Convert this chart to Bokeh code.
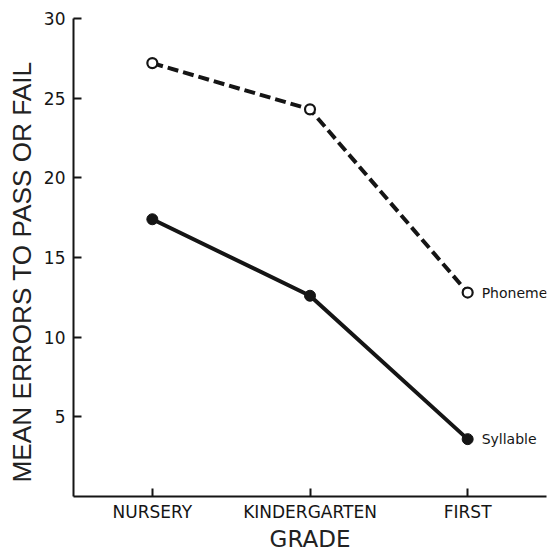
from bokeh.plotting import figure
from bokeh.models import FactorRange, Range1d, FixedTicker, ColumnDataSource, Title
from bokeh.core.properties import value
from bokeh.embed import file_html
from bokeh.resources import INLINE

grades = ["NURSERY", "KINDERGARTEN", "FIRST"]
phoneme = [27.2, 24.3, 12.8]
syllable = [17.4, 12.6, 3.6]
series_labels = ["Phoneme", "Syllable"]
y_ticks = [5, 10, 15, 20, 25, 30]
y_title = "MEAN ERRORS TO PASS OR FAIL"
x_title = "GRADE"

p = figure(width=551, height=554, x_range=FactorRange(*grades), y_range=Range1d(0, 30),
           output_backend="svg", toolbar_location=None,
           min_border_left=69, min_border_right=5, min_border_top=18, min_border_bottom=40)
p.outline_line_color = None
p.xgrid.visible = False
p.ygrid.visible = False
p.background_fill_color = "white"

ink = "#151515"

p.line(grades, phoneme, line_color=ink, line_width=4, line_dash="11 5")
p.scatter(grades, phoneme, size=10, marker="circle", fill_color="white", line_color=ink, line_width=2.2)
p.line(grades, syllable, line_color=ink, line_width=4)
p.scatter(grades, syllable, size=11, marker="circle", fill_color=ink, line_color=ink)

lab = ColumnDataSource(dict(x=[grades[-1], grades[-1]], y=[phoneme[-1], syllable[-1]], t=series_labels))
p.text(x="x", y="y", text="t", source=lab, x_offset=14, text_baseline="middle", text_align="left",
       text_font=value("DejaVu Sans"), text_font_size="14px", text_color=ink)

for ax in (p.xaxis[0], p.yaxis[0]):
    ax.axis_line_color = ink
    ax.axis_line_width = 2
    ax.major_tick_line_color = ink
    ax.major_tick_line_width = 2
    ax.major_tick_in = 8
    ax.major_tick_out = 0
    ax.minor_tick_line_color = None
    ax.major_label_text_font = "DejaVu Sans"
    ax.major_label_text_color = ink
    ax.axis_label_text_font_style = "normal"
    ax.axis_label_text_color = "#222222"

p.yaxis.ticker = FixedTicker(ticks=y_ticks)
p.yaxis.major_label_text_font_size = "17px"
p.yaxis.major_label_standoff = 8

# y-axis title, started a little above the frame bottom as in the original
p.add_layout(Title(text=y_title, align="left", offset=14, standoff=8,
                   text_font="Liberation Sans", text_font_size="26.2px",
                   text_font_style="normal", text_color="#222222"), "left")

p.xaxis.major_label_text_font_size = "17px"
p.xaxis.major_label_standoff = 5
p.xaxis.axis_label = x_title
p.xaxis.axis_label_text_font = "DejaVu Sans"
p.xaxis.axis_label_text_font_size = "23px"
p.xaxis.axis_label_standoff = 1
p.x_range.range_padding = 0

open("out.html", "w").write(file_html(p, INLINE))
